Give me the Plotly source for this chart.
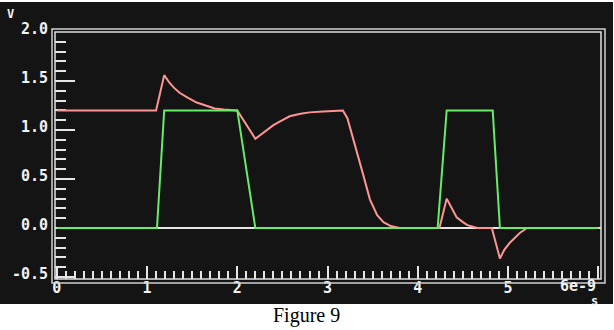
import plotly.graph_objects as go

# ---- data ----
t_in = [0.0, 1.11, 1.19, 2.00, 2.20, 4.22, 4.32, 4.83, 4.91, 6.0]
v_in = [0.0, 0.0, 1.20, 1.20, 0.0, 0.0, 1.20, 1.20, 0.0, 0.0]

t_out = [0.0, 1.10, 1.19, 1.25, 1.30, 1.36, 1.45, 1.55, 1.65, 1.75, 1.85, 2.00,
         2.20, 2.30, 2.40, 2.50, 2.58, 2.70, 2.80, 2.95, 3.17,
         3.22, 3.28, 3.39, 3.47, 3.55, 3.62, 3.70, 3.80,
         4.24, 4.32, 4.38, 4.43, 4.50, 4.55, 4.66,
         4.82, 4.91, 4.96, 5.02, 5.08, 5.13, 5.21, 6.0]
v_out = [1.20, 1.20, 1.56, 1.48, 1.43, 1.38, 1.33, 1.28, 1.25, 1.22, 1.21, 1.20,
         0.91, 0.98, 1.05, 1.10, 1.14, 1.165, 1.18, 1.19, 1.20,
         1.12, 0.93, 0.56, 0.29, 0.13, 0.06, 0.02, 0.0,
         0.0, 0.30, 0.19, 0.11, 0.06, 0.03, 0.0,
         0.0, -0.31, -0.22, -0.15, -0.09, -0.05, 0.0, 0.0]

x_tickvals = [0, 1, 2, 3, 4, 5, 6]
x_ticktext = ["0", "1", "2", "3", "4", "5", ""]
x_last_label = "6e-9"
y_tickvals = [-0.5, 0.0, 0.5, 1.0, 1.5, 2.0]
y_ticktext = ["-0.5", "0.0", "0.5", "1.0", "1.5", "2.0"]
x_unit = "s"
y_unit = "V"
caption = "Figure 9"

# ---- layout helpers ----
W, H = 614, 330
L, R, T, B = 55, 13, 32, 51
PW, PH = W - L - R, H - T - B


def px(x):
    return (x - L) / PW


def py(y):
    return 1 - (y - T) / PH


BG = "#141414"
FG = "#e6e6e6"
tickfont = dict(family="DejaVu Sans Mono", size=15, color="#f2f2f2", weight="bold")

fig = go.Figure()
fig.add_trace(go.Scatter(x=t_out, y=v_out, mode="lines",
                         line=dict(color="#ff9494", width=2), hoverinfo="skip"))
fig.add_trace(go.Scatter(x=t_in, y=v_in, mode="lines",
                         line=dict(color="#66ec66", width=2), hoverinfo="skip"))

fig.update_layout(
    width=W, height=H,
    margin=dict(l=L, r=R, t=T, b=B, pad=0),
    paper_bgcolor="white", plot_bgcolor=BG,
    showlegend=False,
    xaxis=dict(range=[-0.02, 6.03], showgrid=False, zeroline=False, showline=False,
               layer="below traces",
               tickmode="array", tickvals=x_tickvals, ticktext=x_ticktext,
               ticks="inside", ticklen=13, tickwidth=2, tickcolor=FG,
               tickfont=tickfont, ticklabelstandoff=-2,
               minor=dict(tickmode="linear", tick0=0, dtick=0.1, ticks="inside",
                          ticklen=8, tickwidth=2, tickcolor=FG, showgrid=False)),
    yaxis=dict(range=[-0.52, 2.0], showgrid=False, zeroline=True, zerolinecolor=FG,
               zerolinewidth=1.5, showline=False, layer="below traces",
               tickmode="array", tickvals=y_tickvals, ticktext=y_ticktext,
               ticks="inside", ticklen=20, tickwidth=2, tickcolor=FG,
               tickfont=tickfont, ticklabelstandoff=6, ticklabelshift=-3,
               minor=dict(tickmode="linear", tick0=0, dtick=0.1, ticks="inside",
                          ticklen=11, tickwidth=2, tickcolor=FG, showgrid=False)),
)

shapes = [
    dict(type="rect", xref="paper", yref="paper", layer="below",
         x0=px(0), x1=px(613), y0=py(304), y1=py(2),
         fillcolor=BG, line=dict(width=0)),
    dict(type="rect", xref="paper", yref="paper", layer="above",
         x0=px(52), x1=px(605), y0=py(283), y1=py(29),
         fillcolor="rgba(0,0,0,0)", line=dict(color="#cfcfcf", width=1.5)),
    dict(type="rect", xref="paper", yref="paper", layer="above",
         x0=0, x1=1, y0=0, y1=1,
         fillcolor="rgba(0,0,0,0)", line=dict(color="#e0e0e0", width=1.5)),
]
fig.update_layout(shapes=shapes)

annotations = [
    dict(text=x_last_label, xref="x", yref="paper", x=6, y=py(286),
         xanchor="right", yanchor="middle", showarrow=False, font=tickfont),
    dict(text=x_unit, xref="paper", yref="paper", x=px(594), y=py(301),
         xanchor="center", yanchor="middle", showarrow=False,
         font=dict(family="DejaVu Sans Mono", size=12, color="#f2f2f2", weight="bold")),
    dict(text=y_unit, xref="paper", yref="paper", x=px(10), y=py(14),
         xanchor="center", yanchor="middle", showarrow=False,
         font=dict(family="DejaVu Sans Mono", size=12, color="#f2f2f2", weight="bold")),
    dict(text=caption, xref="paper", yref="paper", x=px(306), y=py(315),
         xanchor="center", yanchor="middle", showarrow=False,
         font=dict(family="Liberation Serif", size=20, color="black")),
]
fig.update_layout(annotations=annotations)

fig.write_html("out.html")
